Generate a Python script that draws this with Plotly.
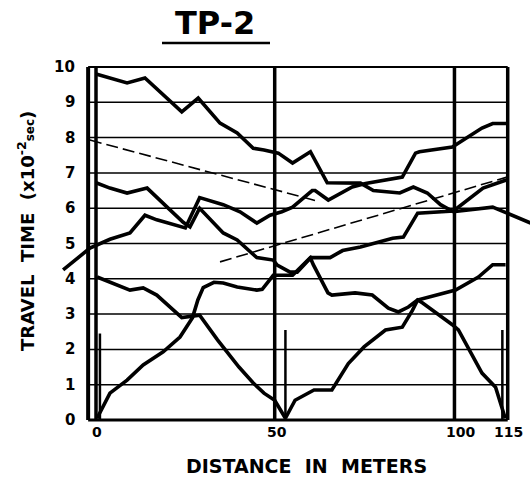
import plotly.graph_objects as go

# ---------------- data ----------------
# forward profile, shot at 0 m
shot0_x = [0.3, 3.9, 8.7, 13.2, 18.8, 23.5, 27, 28.5, 30, 33, 35.6, 39.5, 45, 46.5, 49.6, 55, 60, 65.5, 69, 74, 83, 86, 90, 96.4, 100, 108.3, 114.8]
shot0_y = [0.05, 0.76, 1.13, 1.56, 1.93, 2.35, 2.9, 3.4, 3.75, 3.9, 3.88, 3.77, 3.68, 3.7, 4.1, 4.1, 4.6, 4.6, 4.8, 4.9, 5.15, 5.18, 5.86, 5.9, 5.92, 6.57, 6.8]

# centre shot (~52 m), left and right branches
shot52_left_x = [0.3, 9.5, 13.2, 17, 24, 29, 34, 40, 44, 47, 50, 53]
shot52_left_y = [4.05, 3.68, 3.74, 3.54, 2.9, 2.97, 2.27, 1.5, 1.05, 0.76, 0.56, 0.05]
shot52_right_x = [53, 55.7, 61, 66, 70.6, 75, 81, 85.7, 88.5, 90, 100.6, 107, 111, 114.6]
shot52_right_y = [0.05, 0.56, 0.85, 0.85, 1.6, 2.07, 2.55, 2.63, 3.1, 3.4, 3.68, 4.05, 4.4, 4.4]

# reverse profile, shot at 115 m
shot115_x = [0, 3.9, 8.7, 14.3, 19.9, 24.4, 26.3, 29, 35.6, 39.5, 45, 49.6, 50.7, 54.3, 56.3, 60, 60.8, 64.9, 66, 72.5, 77.3, 81.8, 84.6, 87.4, 90, 91.3, 99.7, 101.4, 108, 111.8, 114.5]
shot115_y = [6.72, 6.57, 6.43, 6.57, 6.03, 5.6, 5.47, 6.0, 5.3, 5.1, 4.6, 4.53, 4.39, 4.19, 4.19, 4.59, 4.4, 3.6, 3.54, 3.6, 3.54, 3.17, 3.06, 3.2, 3.4, 3.32, 2.7, 2.55, 1.33, 0.93, 0.05]

# off-end forward shot (left of spread)
offleft_x = [-9.2, -1.7, 3.9, 9.5, 13.7, 17, 25, 29, 35.6, 40.3, 45, 48.7, 52, 55, 60.5, 61.3, 65, 71.7, 75.4, 85.7, 89.4, 90.5, 99.7, 108, 111, 115]
offleft_y = [4.25, 4.87, 5.12, 5.3, 5.8, 5.67, 5.44, 6.3, 6.1, 5.9, 5.58, 5.8, 5.9, 6.03, 6.5, 6.5, 6.23, 6.6, 6.7, 6.88, 7.56, 7.6, 7.73, 8.27, 8.4, 8.4]

# off-end reverse shot (right of spread)
offright_x = [0, 8.7, 13.7, 24, 28.6, 34.7, 39.5, 44, 47, 51, 55, 60, 64.7, 68, 74, 77.6, 85, 88.8, 92.7, 96.4, 100, 111, 115, 121.6]
offright_y = [9.8, 9.55, 9.69, 8.73, 9.12, 8.41, 8.13, 7.7, 7.65, 7.56, 7.28, 7.6, 6.72, 6.71, 6.71, 6.5, 6.43, 6.6, 6.43, 6.1, 5.9, 6.03, 5.85, 5.58]

# fitted (thin dashed) lines
fit_upper_x = [-1.7, 62]
fit_upper_y = [7.93, 6.2]
fit_lower_x = [34.7, 115]
fit_lower_y = [4.48, 6.88]

# shot-point markers
shot_marker_x = [1.1, 53, 113.7]
shot_marker_h = [2.45, 2.55, 2.55]

# axes / ticks
y_ticks = list(range(0, 11))
x_tick_vals = [0, 50, 100, 115]
x_tick_label_pos = [0.3, 50.6, 102.0, 115.3]
x_left_edge = -2.2
x_right_edge = 115.2
vertical_lines = [0, 50, 100.3]

# ---------------- figure ----------------
W, H = 530, 478
ML, MR, MT, MB = 60, 0, 50, 30
s_x = 411 / 115.0
s_y = 35.3
x0 = -(96 - ML) / s_x
x1 = 115 + (W - MR - 507) / s_x
y1 = (420 - MT) / s_y
y0 = -((H - MB) - 420) / s_y

fig = go.Figure()

def add_line(xs, ys, width=3.6, dash="solid"):
    fig.add_trace(go.Scatter(x=xs, y=ys, mode="lines",
                             line=dict(color="black", width=width, dash=dash),
                             hoverinfo="skip", showlegend=False))

add_line(offright_x, offright_y)
add_line(offleft_x, offleft_y)
add_line(shot115_x, shot115_y)
add_line(shot0_x, shot0_y)
add_line(shot52_left_x, shot52_left_y)
add_line(shot52_right_x, shot52_right_y)
add_line(fit_upper_x, fit_upper_y, width=1.6, dash="12px,5px")
add_line(fit_lower_x, fit_lower_y, width=1.6, dash="12px,5px")
for sx, sh in zip(shot_marker_x, shot_marker_h):
    add_line([sx, sx], [0, sh], width=2.5)

shapes = []
for yv in y_ticks[1:-1]:
    shapes.append(dict(type="line", xref="x", yref="y", x0=x_left_edge, x1=x_right_edge,
                       y0=yv, y1=yv, line=dict(color="black", width=1.5), layer="below"))
shapes.append(dict(type="line", xref="x", yref="y", x0=x_left_edge, x1=x_right_edge,
                   y0=10, y1=10, line=dict(color="black", width=2), layer="below"))
shapes.append(dict(type="line", xref="x", yref="y", x0=x_left_edge, x1=x_right_edge,
                   y0=0, y1=0, line=dict(color="black", width=3), layer="below"))
shapes.append(dict(type="line", xref="x", yref="y", x0=x_left_edge, x1=x_left_edge,
                   y0=0, y1=10, line=dict(color="black", width=4), layer="below"))
shapes.append(dict(type="line", xref="x", yref="y", x0=x_right_edge, x1=x_right_edge,
                   y0=0, y1=10, line=dict(color="black", width=3.5), layer="below"))
for xv in vertical_lines:
    shapes.append(dict(type="line", xref="x", yref="y", x0=xv, x1=xv,
                       y0=0, y1=10, line=dict(color="black", width=3.5), layer="below"))

def px2paper_x(px):
    return (px - ML) / (W - ML - MR)
def px2paper_y(py):
    return ((H - MB) - py) / (H - MT - MB)

shapes.append(dict(type="line", xref="paper", yref="paper",
                   x0=px2paper_x(162), x1=px2paper_x(270),
                   y0=px2paper_y(43), y1=px2paper_y(43),
                   line=dict(color="black", width=2.5)))

annotations = []
tick_font = dict(family="DejaVu Sans", size=15, color="black", weight="bold")
for yv in y_ticks:
    annotations.append(dict(x=-5.3, y=yv, xref="x", yref="y", text=str(yv),
                            showarrow=False, xanchor="right", yanchor="middle",
                            font=tick_font))
for xv, xp in zip(x_tick_vals, x_tick_label_pos):
    annotations.append(dict(x=xp, y=-0.33, xref="x", yref="y", text=str(xv),
                            showarrow=False, xanchor="center", yanchor="middle",
                            font=dict(family="DejaVu Sans", size=14, color="black", weight="bold")))

annotations.append(dict(x=px2paper_x(306), y=px2paper_y(466), xref="paper", yref="paper",
                        text="DISTANCE  IN  METERS", showarrow=False,
                        xanchor="center", yanchor="middle",
                        font=dict(family="DejaVu Sans", size=19, color="black", weight="bold")))
annotations.append(dict(x=px2paper_x(26), y=px2paper_y(231), xref="paper", yref="paper",
                        text="TRAVEL  TIME  (x10<sup>-2</sup><span style='font-size:12px'>sec</span>)",
                        showarrow=False, textangle=-90,
                        xanchor="center", yanchor="middle",
                        font=dict(family="DejaVu Sans", size=18, color="black", weight="bold")))
annotations.append(dict(x=px2paper_x(215), y=px2paper_y(23), xref="paper", yref="paper",
                        text="TP-2", showarrow=False,
                        xanchor="center", yanchor="middle",
                        font=dict(family="DejaVu Sans", size=32, color="black", weight="bold")))

fig.update_layout(
    width=W, height=H,
    margin=dict(l=ML, r=MR, t=MT, b=MB, pad=0),
    paper_bgcolor="white", plot_bgcolor="white",
    xaxis=dict(range=[x0, x1], visible=False, fixedrange=True),
    yaxis=dict(range=[y0, y1], visible=False, fixedrange=True),
    shapes=shapes, annotations=annotations,
    showlegend=False,
)

fig.write_html("out.html",
               config={"displayModeBar": False},
               post_script="document.body.style.margin='0';document.body.style.overflow='hidden';")
